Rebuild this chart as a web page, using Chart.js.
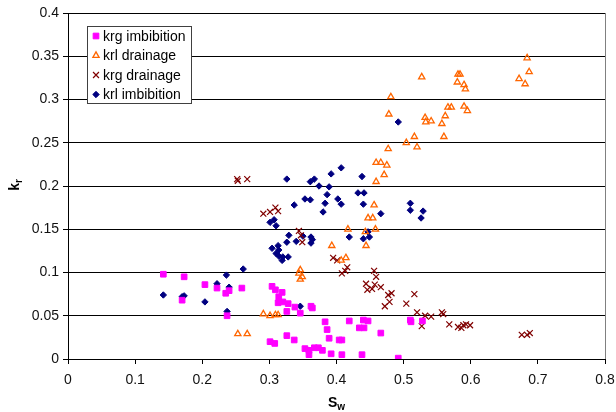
<!DOCTYPE html>
<html>
<head>
<meta charset="utf-8">
<script src="https://cdn.jsdelivr.net/npm/chart.js@4/dist/chart.umd.min.js"></script>
<style>
  html, body { margin: 0; padding: 0; background: #fff; }
  #wrap { width: 616px; height: 412px; position: relative; }
</style>
</head>
<body>
<div id="wrap"><canvas id="c" width="616" height="412"></canvas></div>
<script>
// Relative permeability measurements: water saturation (Sw) vs kr
const seriesNames = ['krg imbibition', 'krl drainage', 'krg drainage', 'krl imbibition'];

const krgImbSw = [0.142,0.173,0.170,0.204,0.222,0.235,0.240,0.259,0.237,0.304,0.309,0.313,0.301,0.308,0.319,0.314,0.320,0.328,0.326,0.338,0.346,0.362,0.364,0.383,0.386,0.389,0.404,0.408,0.419,0.434,0.441,0.440,0.447,0.326,0.337,0.353,0.359,0.367,0.373,0.379,0.359,0.392,0.408,0.438,0.510,0.511,0.528,0.466,0.492];
const krgImbKr = [0.098,0.095,0.068,0.086,0.082,0.076,0.079,0.082,0.050,0.084,0.080,0.065,0.020,0.018,0.077,0.072,0.066,0.064,0.055,0.060,0.053,0.061,0.059,0.043,0.034,0.024,0.022,0.022,0.044,0.036,0.036,0.045,0.044,0.027,0.022,0.012,0.010,0.013,0.013,0.010,0.005,0.006,0.005,0.005,0.045,0.043,0.044,0.030,0.001];

const krlDrnSw = [0.253,0.267,0.291,0.301,0.309,0.313,0.346,0.344,0.349,0.346,0.393,0.407,0.414,0.417,0.444,0.443,0.447,0.454,0.458,0.456,0.459,0.471,0.459,0.466,0.475,0.477,0.504,0.516,0.520,0.560,0.478,0.481,0.532,0.533,0.541,0.557,0.562,0.566,0.571,0.590,0.595,0.527,0.580,0.581,0.584,0.590,0.592,0.672,0.681,0.687,0.684];
const krlDrnKr = [0.029,0.029,0.052,0.050,0.051,0.051,0.103,0.099,0.095,0.092,0.131,0.114,0.117,0.150,0.131,0.147,0.163,0.163,0.150,0.178,0.205,0.213,0.227,0.227,0.224,0.243,0.250,0.257,0.245,0.257,0.283,0.303,0.279,0.274,0.275,0.272,0.281,0.291,0.291,0.292,0.287,0.326,0.320,0.329,0.329,0.317,0.312,0.324,0.318,0.332,0.348];

const krgDrnSw = [0.252,0.253,0.267,0.291,0.301,0.309,0.313,0.344,0.347,0.349,0.395,0.401,0.408,0.416,0.413,0.456,0.459,0.444,0.446,0.453,0.457,0.466,0.477,0.482,0.472,0.479,0.504,0.516,0.520,0.532,0.541,0.527,0.559,0.557,0.568,0.581,0.589,0.593,0.586,0.599,0.676,0.684,0.688];
const krgDrnKr = [0.208,0.206,0.208,0.168,0.170,0.175,0.171,0.148,0.143,0.135,0.117,0.114,0.099,0.106,0.102,0.102,0.095,0.087,0.080,0.081,0.086,0.083,0.074,0.076,0.061,0.066,0.064,0.075,0.054,0.050,0.049,0.038,0.052,0.054,0.040,0.037,0.039,0.040,0.036,0.039,0.028,0.028,0.030];

const krlImbSw = [0.142,0.170,0.173,0.204,0.222,0.236,0.240,0.261,0.237,0.301,0.307,0.310,0.304,0.313,0.314,0.310,0.314,0.320,0.328,0.319,0.326,0.361,0.367,0.374,0.392,0.407,0.389,0.386,0.383,0.380,0.353,0.361,0.337,0.402,0.407,0.432,0.441,0.438,0.440,0.329,0.326,0.340,0.350,0.362,0.364,0.362,0.419,0.440,0.447,0.449,0.346,0.466,0.510,0.510,0.529,0.526,0.492];
const krlImbKr = [0.074,0.072,0.073,0.066,0.087,0.097,0.083,0.104,0.055,0.158,0.161,0.154,0.128,0.131,0.126,0.122,0.119,0.118,0.118,0.114,0.208,0.205,0.208,0.200,0.214,0.221,0.199,0.190,0.180,0.170,0.185,0.184,0.178,0.185,0.179,0.192,0.192,0.211,0.179,0.143,0.135,0.136,0.142,0.141,0.138,0.134,0.141,0.139,0.147,0.141,0.061,0.168,0.180,0.172,0.171,0.163,0.274];

const xTicks = [0, 0.1, 0.2, 0.3, 0.4, 0.5, 0.6, 0.7, 0.8];
const yTicks = [0, 0.05, 0.1, 0.15, 0.2, 0.25, 0.3, 0.35, 0.4];

const pts = (xs, ys) => xs.map((x, i) => ({ x: x, y: ys[i] }));
const FONT = "'Liberation Sans', Arial, sans-serif";

const datasets = [
  { label: seriesNames[0], data: pts(krgImbSw, krgImbKr), pointStyle: 'rect', pointRadius: 4,
    backgroundColor: '#FF00FF', borderColor: '#FF00FF', borderWidth: 1 },
  { label: seriesNames[1], data: pts(krlDrnSw, krlDrnKr), pointStyle: 'triangle', pointRadius: 3.6,
    backgroundColor: 'rgba(255,255,255,0)', borderColor: '#FF6600', borderWidth: 1.3 },
  { label: seriesNames[2], data: pts(krgDrnSw, krgDrnKr), pointStyle: 'crossRot', pointRadius: 4.2,
    backgroundColor: '#800000', borderColor: '#800000', borderWidth: 1.2 },
  { label: seriesNames[3], data: pts(krlImbSw, krlImbKr), pointStyle: 'rectRot', pointRadius: 3.2,
    backgroundColor: '#000080', borderColor: '#000080', borderWidth: 1 }
];

// Axis titles with subscripts, right border of the plot, and the boxed legend
const decorations = {
  id: 'decorations',
  afterDraw(chart) {
    const ctx = chart.ctx;
    const a = chart.chartArea;
    ctx.save();
    // right edge of plot area
    ctx.strokeStyle = '#808080';
    ctx.lineWidth = 1;
    ctx.beginPath();
    ctx.moveTo(Math.round(a.right) + 0.5, a.top);
    ctx.lineTo(Math.round(a.right) + 0.5, a.bottom);
    ctx.stroke();

    // axis titles: main letter with a subscript
    ctx.fillStyle = '#000';
    ctx.textBaseline = 'alphabetic';
    const drawSub = (main, sub, x, y) => {
      ctx.font = 'bold 14px ' + FONT;
      const w1 = ctx.measureText(main).width;
      ctx.font = 'bold 10px ' + FONT;
      const w2 = ctx.measureText(sub).width;
      const start = x - (w1 + w2) / 2;
      ctx.font = 'bold 14px ' + FONT;
      ctx.textAlign = 'left';
      ctx.fillText(main, start, y);
      ctx.font = 'bold 10px ' + FONT;
      ctx.fillText(sub, start + w1, y + 3);
    };
    drawSub('S', 'w', (a.left + a.right) / 2, 407);

    ctx.save();
    ctx.translate(19, (a.top + a.bottom) / 2 - 1);
    ctx.rotate(-Math.PI / 2);
    drawSub('k', 'r', 0, 0);
    ctx.restore();

    // legend box
    const lx = 87, ly = 26, lw = 104, lh = 77;
    ctx.fillStyle = '#fff';
    ctx.fillRect(lx, ly, lw, lh);
    ctx.strokeStyle = '#404040';
    ctx.lineWidth = 1;
    ctx.strokeRect(lx + 0.5, ly + 0.5, lw, lh);
    ctx.font = '14px ' + FONT;
    ctx.textAlign = 'left';
    ctx.textBaseline = 'middle';
    chart.data.datasets.forEach((ds, i) => {
      const cy = ly + 10 + i * 19.5;
      ctx.fillStyle = ds.backgroundColor;
      ctx.strokeStyle = ds.borderColor;
      ctx.lineWidth = ds.borderWidth;
      Chart.helpers.drawPoint(ctx, { pointStyle: ds.pointStyle, radius: ds.pointRadius, rotation: 0, borderWidth: ds.borderWidth }, lx + 9, cy);
      ctx.fillStyle = '#000';
      ctx.fillText(ds.label, lx + 16, cy + 1);
    });
    ctx.restore();
  }
};

new Chart(document.getElementById('c'), {
  type: 'scatter',
  data: { datasets: datasets },
  options: {
    responsive: false,
    animation: false,
    events: [],
    layout: { padding: { left: 0, right: 11, top: 13, bottom: 0 } },
    plugins: { legend: { display: false }, tooltip: { enabled: false } },
    scales: {
      x: {
        type: 'linear', min: 0, max: 0.8,
        afterBuildTicks: s => { s.ticks = xTicks.map(v => ({ value: v })); },
        afterFit: s => { s.height = 53; s.paddingLeft = 0; s.paddingRight = 0; },
        grid: { display: true, drawOnChartArea: false, drawTicks: true, tickLength: 5, color: '#000' },
        border: { display: true, color: '#000', width: 1 },
        ticks: { color: '#111', font: { family: FONT, size: 14 }, padding: 8, maxRotation: 0,
                 callback: v => String(v) }
      },
      y: {
        type: 'linear', min: 0, max: 0.4,
        afterBuildTicks: s => { s.ticks = yTicks.map(v => ({ value: v })); },
        afterFit: s => { s.width = 68; s.paddingTop = 0; s.paddingBottom = 0; },
        grid: { display: true, drawOnChartArea: true, drawTicks: true, tickLength: 5, color: '#000' },
        border: { display: true, color: '#000', width: 1 },
        ticks: { color: '#111', font: { family: FONT, size: 14 }, padding: 4,
                 callback: v => String(v) }
      }
    }
  },
  plugins: [decorations]
});
</script>
</body>
</html>
